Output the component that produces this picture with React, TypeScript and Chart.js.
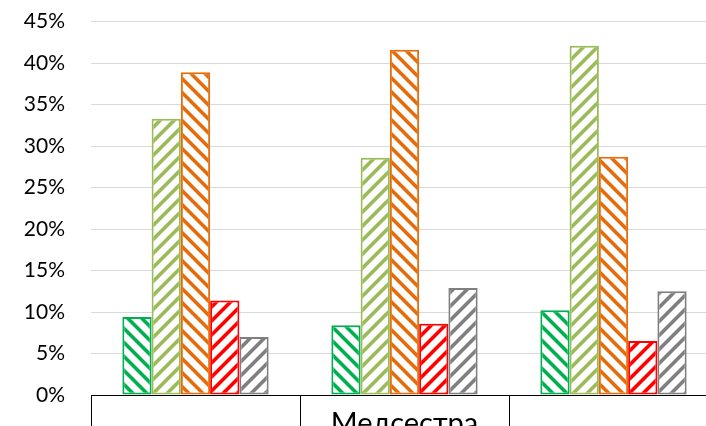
import React, { useEffect, useRef } from 'react';
import { Chart, registerables } from 'chart.js';

Chart.register(...registerables);

const categories = ['', 'Медсестра', ''];
const seriesA = [9.4, 8.4, 10.2];
const seriesB = [33.3, 28.6, 42.1];
const seriesC = [38.9, 41.6, 28.7];
const seriesD = [11.4, 8.6, 6.5];
const seriesE = [7.0, 12.9, 12.5];
const colors = ['#00B050', '#9BBB59', '#E46C0A', '#FF0000', '#7F7F7F'];
const directions = ['down', 'up', 'down', 'up', 'up'];
const yMax = 45;
const yStep = 5;

const SHIFT = 17;
const CANVAS_W = 718;
const CANVAS_H = 477;
const X_AXIS_H = 65;
const FONT = 'Lato, "Open Sans", sans-serif';

function hexToRgb(hex: string) {
  const n = parseInt(hex.slice(1), 16);
  return [(n >> 16) & 255, (n >> 8) & 255, n & 255];
}

function makePattern(color: string, dir: string): CanvasPattern | string {
  const size = 14;
  const c = document.createElement('canvas');
  c.width = size;
  c.height = size;
  const ctx = c.getContext('2d');
  if (!ctx) return color;
  const img = ctx.createImageData(size, size);
  const [r, g, b] = hexToRgb(color);
  for (let y = 0; y < size; y++) {
    for (let x = 0; x < size; x++) {
      const v = dir === 'up' ? (x + y) % size : ((x - y) % size + size) % size;
      let a = 0;
      if (v >= 1 && v <= 4) a = 1;
      else if (v === 0 || v === 5) a = 0.55;
      const i = (y * size + x) * 4;
      img.data[i] = Math.round(255 * (1 - a) + r * a);
      img.data[i + 1] = Math.round(255 * (1 - a) + g * a);
      img.data[i + 2] = Math.round(255 * (1 - a) + b * a);
      img.data[i + 3] = 255;
    }
  }
  ctx.putImageData(img, 0, 0);
  const p = ctx.createPattern(c, 'repeat');
  return p || color;
}

export default function App() {
  const ref = useRef<HTMLCanvasElement>(null);

  useEffect(() => {
    if (!ref.current) return;
    const values = [seriesA, seriesB, seriesC, seriesD, seriesE];
    const chart = new Chart(ref.current, {
      type: 'bar',
      data: {
        labels: categories,
        datasets: values.map((v, i) => ({
          data: v,
          backgroundColor: makePattern(colors[i], directions[i]) as any,
          borderColor: colors[i],
          borderWidth: 2,
          borderSkipped: false,
          barPercentage: 1,
          categoryPercentage: 0.7,
        })),
      },
      options: {
        responsive: false,
        animation: false,
        devicePixelRatio: 1,
        layout: { padding: { top: 0, left: 0, right: 0, bottom: 0 } },
        plugins: {
          legend: { display: false },
          title: { display: false },
          tooltip: { enabled: false },
        },
        scales: {
          x: {
            grid: {
              display: true,
              drawOnChartArea: false,
              drawTicks: true,
              tickLength: X_AXIS_H,
              tickColor: '#000000',
              tickWidth: 1,
              offset: true,
            },
            border: { display: true, color: '#000000', width: 1 },
            ticks: {
              padding: -54,
              color: '#000000',
              font: { family: FONT, size: 29 },
              maxRotation: 0,
              autoSkip: false,
            },
            afterFit: (scale: any) => {
              scale.height = X_AXIS_H;
            },
          },
          y: {
            min: 0,
            max: yMax,
            grid: { color: '#D9D9D9', lineWidth: 1, drawTicks: false },
            border: { display: false },
            ticks: {
              stepSize: yStep,
              padding: 26,
              color: '#000000',
              font: { family: FONT, size: 21 },
              callback: (v: any) => `${v}%`,
            },
            afterFit: (scale: any) => {
              scale.width = 91;
            },
          },
        },
      },
    });
    return () => chart.destroy();
  }, []);

  return (
    <div
      style={{
        position: 'fixed',
        left: 0,
        top: 0,
        width: 706,
        height: 426,
        overflow: 'hidden',
        background: '#ffffff',
      }}
    >
      <canvas
        ref={ref}
        width={CANVAS_W}
        height={CANVAS_H}
        style={{ display: 'block', marginTop: -SHIFT }}
      />
    </div>
  );
}
